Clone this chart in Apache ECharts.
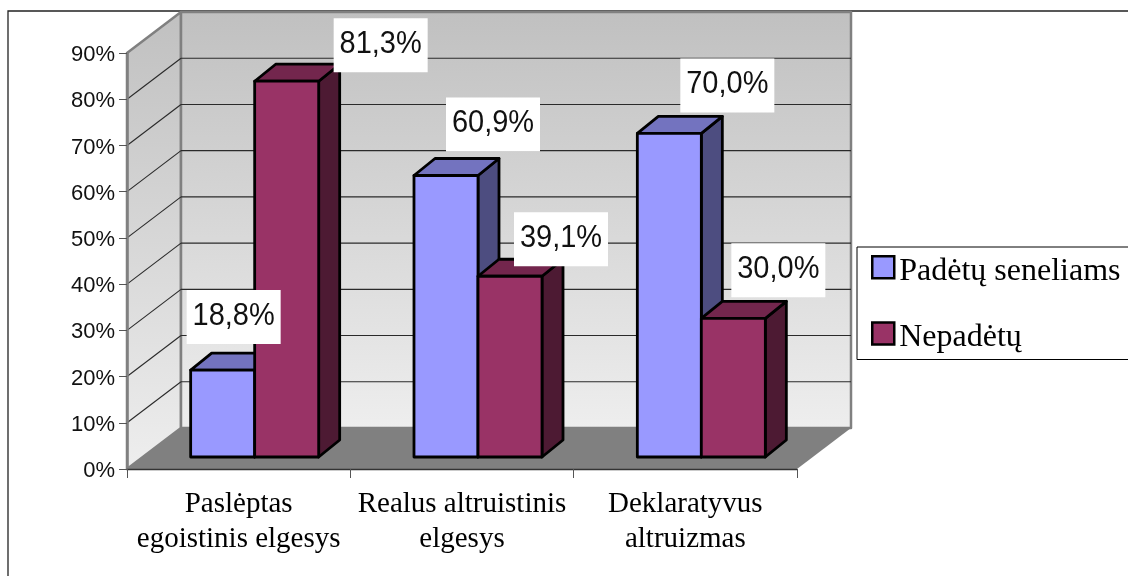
<!DOCTYPE html>
<html>
<head>
<meta charset="utf-8">
<style>html,body{margin:0;padding:0;background:#fff;overflow:hidden}#c{width:1128px;height:576px}</style>
<script src="https://cdn.jsdelivr.net/npm/echarts@6/dist/echarts.min.js"></script>
</head>
<body>
<div id="c"></div>
<script>
const categories = ['Paslėptas\negoistinis elgesys', 'Realus altruistinis\nelgesys', 'Deklaratyvus\naltruizmas'];
const seriesNames = ['Padėtų seneliams', 'Nepadėtų'];
const helpValues = [18.8, 60.9, 70.0];
const noHelpValues = [81.3, 39.1, 30.0];
const yTicks = [0, 10, 20, 30, 40, 50, 60, 70, 80, 90];

// projection / style constants (not data)
const WALL_D = [54, -41];      // floor depth vector
const BAR_SHIFT = [16, -12];   // front plane of the bars relative to the axis plane
const BAR_D = [21, -17];       // bar depth vector
const BAR_FRAC = 0.2866;       // bar width as share of category band
const helpNudge = [[11, -53], [47, -51], [58, -48]];
const noHelpNudge = [[94, -36], [51, -37], [45, -48]];
const colors = [
  { front: '#9999ff', top: '#7373bf', side: '#4d4d80' },
  { front: '#993366', top: '#73264d', side: '#4d1a33' }
];
const wallGrad = { type: 'linear', x: 0, y: 0, x2: 0, y2: 1, colorStops: [{ offset: 0, color: '#c0c0c0' }, { offset: 1, color: '#eeeeee' }] };
const wallGray = '#808080';

const fmt = v => v.toFixed(1).replace('.', ',') + '%';
const poly = (points, fill, stroke, lw) => ({
  type: 'polygon', shape: { points },
  style: { fill, stroke: stroke || null, lineWidth: lw || 0, lineJoin: 'round' }
});

function renderWalls(params, api) {
  const band = api.size([1, 0])[0];
  const o = api.coord([0, 0]), t = api.coord([0, 90]), r = api.coord([categories.length - 1, 0]);
  const x0 = o[0] - band / 2, x1 = r[0] + band / 2, y0 = o[1], y1 = t[1];
  const dx = WALL_D[0], dy = WALL_D[1];
  return { type: 'group', children: [
    poly([[x0, y1], [x0 + dx, y1 + dy], [x0 + dx, y0 + dy], [x0, y0]], wallGrad, wallGray, 2.5),
    poly([[x0 + dx, y1 + dy], [x1 + dx, y1 + dy], [x1 + dx, y0 + dy], [x0 + dx, y0 + dy]], wallGrad, wallGray, 2.5),
    poly([[x0, y0], [x0 + dx, y0 + dy], [x1 + dx, y0 + dy], [x1, y0]], '#808080')
  ]};
}
function renderGrid(params, api) {
  const v = api.value(0);
  if (v === yTicks[0] || v === yTicks[yTicks.length - 1]) return { type: 'group', children: [] };
  const band = api.size([1, 0])[0];
  const o = api.coord([0, v]), r = api.coord([categories.length - 1, v]);
  const x0 = o[0] - band / 2, x1 = r[0] + band / 2, y = o[1];
  const dx = WALL_D[0], dy = WALL_D[1];
  const st = { stroke: '#2a2a2a', lineWidth: 1.1 };
  return { type: 'group', children: [
    { type: 'line', shape: { x1: x0, y1: y, x2: x0 + dx, y2: y + dy }, style: st },
    { type: 'line', shape: { x1: x0 + dx, y1: y + dy, x2: x1 + dx, y2: y + dy }, style: st }
  ]};
}
function barRenderer(idx) {
  return function (params, api) {
    const band = api.size([1, 0])[0], w = band * BAR_FRAC;
    const base = api.coord([api.value(0), 0]), top = api.coord([api.value(0), api.value(1)]);
    const l = base[0] + BAR_SHIFT[0] - (idx === 0 ? w : 0), r = l + w;
    const yb = base[1] + BAR_SHIFT[1], yt = top[1] + BAR_SHIFT[1];
    const dx = BAR_D[0], dy = BAR_D[1], c = colors[idx];
    return { type: 'group', children: [
      poly([[r, yt], [r + dx, yt + dy], [r + dx, yb + dy], [r, yb]], c.side, '#000', 2.8),
      poly([[l, yt], [l + dx, yt + dy], [r + dx, yt + dy], [r, yt]], c.top, '#000', 2.8),
      poly([[l, yt], [r, yt], [r, yb], [l, yb]], c.front, '#000', 2.8)
    ]};
  };
}
function labelRenderer(idx, nudge) {
  return function (params, api) {
    const band = api.size([1, 0])[0], w = band * BAR_FRAC;
    const i = api.value(0);
    const base = api.coord([i, 0]), top = api.coord([i, api.value(1)]);
    const cx = base[0] + BAR_SHIFT[0] + (idx === 0 ? -w / 2 : w / 2) + nudge[i][0];
    const cy = top[1] + BAR_SHIFT[1] + nudge[i][1];
    return { type: 'group', children: [
      { type: 'rect', shape: { x: cx - 47, y: cy - 27, width: 94, height: 54 }, style: { fill: '#fff' } },
      { type: 'text', x: cx, y: cy - 1, scaleY: 1.1, style: { text: fmt(api.value(1)), fill: '#111', font: '29px "Liberation Sans", Arial, sans-serif', align: 'center', verticalAlign: 'middle' } }
    ]};
  };
}
const tuples = vals => vals.map((v, i) => [i, v]);

const chart = echarts.init(document.getElementById('c'), null, { width: 1128, height: 576 });
chart.setOption({
  animation: false,
  backgroundColor: '#fff',
  graphic: [{
    type: 'rect', z: -1, silent: true,
    shape: { x: 8, y: 11, width: 2000, height: 2000 },
    style: { fill: 'transparent', stroke: '#222', lineWidth: 1.3 }
  }],
  grid: { left: 127, top: 53, width: 670, height: 416 },
  legend: {
    orient: 'vertical', left: 857, top: 247,
    padding: [8, 40, 6, 14],
    itemWidth: 22, itemHeight: 22, itemGap: 34,
    borderColor: '#000', borderWidth: 1, backgroundColor: '#fff',
    formatter: name => '{a|' + name + '}',
    textStyle: { rich: { a: { fontFamily: '"Liberation Serif", serif', fontSize: 32, color: '#000', padding: [8, 0, 0, 0] } } },
    data: seriesNames.map((n, i) => ({
      name: n, icon: 'rect',
      itemStyle: { color: colors[i].front, borderColor: '#000', borderWidth: 2.5 }
    }))
  },
  xAxis: {
    type: 'category', data: categories, z: 10,
    axisLine: { lineStyle: { color: '#333', width: 1.3 } },
    axisTick: { show: true, length: 9, alignWithLabel: false, lineStyle: { color: '#555', width: 1 } },
    axisLabel: { fontFamily: '"Liberation Serif", serif', fontSize: 29, color: '#000', lineHeight: 35, margin: 18, interval: 0 }
  },
  yAxis: {
    type: 'value', min: 0, max: 90, interval: 10, z: 10,
    axisLine: { show: true, lineStyle: { color: '#808080', width: 2.5 } },
    axisTick: { show: true, length: 8, lineStyle: { color: '#555', width: 1 } },
    splitLine: { show: false },
    axisLabel: {
      formatter: v => '{a|' + v + '%}', margin: 12,
      rich: { a: { fontFamily: '"Liberation Sans", Arial, sans-serif', fontSize: 22, color: '#111', padding: [4, 0, 0, 0] } }
    }
  },
  series: [
    { type: 'custom', name: 'walls', z: 1, silent: true, data: [[0, 0]], renderItem: renderWalls, encode: { x: 0, y: 1 } },
    { type: 'custom', name: 'grid', z: 2, silent: true, data: yTicks.map(v => [v]), renderItem: renderGrid, encode: { y: 0 } },
    { type: 'custom', name: seriesNames[0], z: 3, data: tuples(helpValues), renderItem: barRenderer(0), encode: { x: 0, y: 1 }, itemStyle: { color: colors[0].front } },
    { type: 'custom', name: seriesNames[1], z: 4, data: tuples(noHelpValues), renderItem: barRenderer(1), encode: { x: 0, y: 1 }, itemStyle: { color: colors[1].front } },
    { type: 'custom', name: 'labels-a', z: 5, silent: true, data: tuples(helpValues), renderItem: labelRenderer(0, helpNudge), encode: { x: 0, y: 1 } },
    { type: 'custom', name: 'labels-b', z: 5, silent: true, data: tuples(noHelpValues), renderItem: labelRenderer(1, noHelpNudge), encode: { x: 0, y: 1 } }
  ]
});
</script>
</body>
</html>
